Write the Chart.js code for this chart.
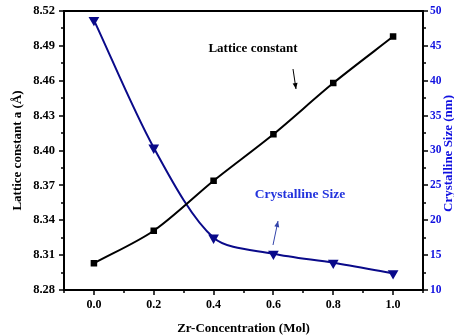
<!DOCTYPE html>
<html>
<head>
<meta charset="utf-8">
<script src="https://cdn.jsdelivr.net/npm/chart.js@4"></script>
<style>
  html, body { margin: 0; padding: 0; background: #fff; }
  #wrap { width: 454px; height: 336px; position: relative; }
</style>
</head>
<body>
<div id="wrap"><canvas id="chart"></canvas></div>
<script>
const zrConc = [0.0, 0.2, 0.4, 0.6, 0.8, 1.0];
const latticeConst = [8.303, 8.331, 8.374, 8.414, 8.458, 8.498];
const crystalSize = [48.7, 30.4, 17.5, 15.2, 13.9, 12.4];
const xTicks = [0.0, 0.2, 0.4, 0.6, 0.8, 1.0];
const yLeftTicks = [8.28, 8.31, 8.34, 8.37, 8.40, 8.43, 8.46, 8.49, 8.52];
const yRightTicks = [10, 15, 20, 25, 30, 35, 40, 45, 50];

const serif = '"Liberation Serif", "Times New Roman", serif';
const blue = '#1010e0';
const navy = '#0a0a8a';

// frame, major + minor ticks, arrows and text labels
const decorPlugin = {
    id: 'decor',
    afterDraw(chart) {
        const ctx = chart.ctx;
        const a = chart.chartArea;
        const sx = chart.scales.x, sy = chart.scales.y, sr = chart.scales.y1;
        ctx.save();
        ctx.strokeStyle = '#000';
        ctx.lineWidth = 2;
        ctx.strokeRect(a.left, a.top, a.right - a.left, a.bottom - a.top);
        ctx.lineWidth = 1.5;
        ctx.beginPath();
        // x ticks
        for (let i = 0; i <= 12; i++) {
            const v = -0.1 + i * 0.1;
            const px = Math.round(sx.getPixelForValue(v));
            const len = (i % 2 === 1) ? 5 : 3;
            ctx.moveTo(px, a.bottom); ctx.lineTo(px, a.bottom + len);
        }
        // left ticks
        for (let i = 0; i <= 16; i++) {
            const v = 8.28 + i * 0.015;
            const py = Math.round(sy.getPixelForValue(v));
            const len = (i % 2 === 0) ? 5 : 3;
            ctx.moveTo(a.left, py); ctx.lineTo(a.left - len, py);
        }
        // right ticks
        for (let i = 0; i <= 16; i++) {
            const v = 10 + i * 2.5;
            const py = Math.round(sr.getPixelForValue(v));
            const len = (i % 2 === 0) ? 5 : 3;
            ctx.moveTo(a.right, py); ctx.lineTo(a.right + len, py);
        }
        ctx.stroke();

        // right axis title, hugging the edge
        ctx.save();
        ctx.translate(449, (a.top + a.bottom) / 2 + 3);
        ctx.rotate(-Math.PI / 2);
        ctx.font = 'bold 13px ' + serif;
        ctx.fillStyle = blue;
        ctx.textAlign = 'center';
        ctx.textBaseline = 'middle';
        ctx.fillText('Crystalline Size (nm)', 0, 0);
        ctx.restore();

        // annotation labels
        ctx.font = 'bold 13px ' + serif;
        ctx.textAlign = 'center';
        ctx.textBaseline = 'middle';
        ctx.fillStyle = '#000';
        ctx.fillText('Lattice constant', 253, 49);
        ctx.font = 'bold 13.5px ' + serif;
        ctx.fillStyle = '#2233dd';
        ctx.fillText('Crystalline Size', 300, 195);

        function arrow(x1, y1, x2, y2, color) {
            ctx.strokeStyle = color;
            ctx.fillStyle = color;
            ctx.lineWidth = 1;
            ctx.beginPath();
            ctx.moveTo(x1, y1); ctx.lineTo(x2, y2);
            ctx.stroke();
            const ang = Math.atan2(y2 - y1, x2 - x1);
            const h = 6, w = 2.5;
            ctx.beginPath();
            ctx.moveTo(x2, y2);
            ctx.lineTo(x2 - h * Math.cos(ang) + w * Math.sin(ang), y2 - h * Math.sin(ang) - w * Math.cos(ang));
            ctx.lineTo(x2 - h * Math.cos(ang) - w * Math.sin(ang), y2 - h * Math.sin(ang) + w * Math.cos(ang));
            ctx.closePath();
            ctx.fill();
        }
        arrow(293, 69, 296, 89, '#000');
        arrow(273, 245, 278, 221, '#3344aa');
        ctx.restore();
    }
};

new Chart(document.getElementById('chart').getContext('2d'), {
    type: 'line',
    data: {
        datasets: [{
            label: 'Lattice constant',
            data: zrConc.map((x, i) => ({ x: x, y: latticeConst[i] })),
            yAxisID: 'y',
            borderColor: '#000',
            backgroundColor: '#000',
            borderWidth: 2,
            pointStyle: 'rect',
            pointRadius: 3.2,
            tension: 0.3
        }, {
            label: 'Crystalline Size',
            data: zrConc.map((x, i) => ({ x: x, y: crystalSize[i] })),
            yAxisID: 'y1',
            borderColor: navy,
            backgroundColor: navy,
            borderWidth: 2,
            pointStyle: 'triangle',
            rotation: 180,
            pointRadius: 4.2,
            tension: 0.3
        }]
    },
    options: {
        responsive: true, maintainAspectRatio: false,
        animation: false,
        layout: { padding: { top: 11, right: 0, left: 0, bottom: 0 } },
        plugins: { legend: { display: false }, tooltip: { enabled: false } },
        scales: {
            x: {
                type: 'linear', min: -0.1, max: 1.1,
                grid: { display: false },
                border: { display: false },
                afterBuildTicks: (s) => { s.ticks = xTicks.map(v => ({ value: v })); },
                afterFit: (s) => { s.height = 46; s.paddingLeft = 0; s.paddingRight = 0; },
                ticks: {
                    color: '#000', padding: 0,
                    font: { family: serif, weight: 'bold', size: 12 },
                    callback: (v) => Number(v).toFixed(1)
                },
                title: {
                    display: true, text: 'Zr-Concentration (Mol)', color: '#000',
                    font: { family: serif, weight: 'bold', size: 13 },
                    padding: { top: 2, bottom: 0 }
                }
            },
            y: {
                type: 'linear', position: 'left', min: 8.28, max: 8.52,
                grid: { display: false },
                border: { display: false },
                afterBuildTicks: (s) => { s.ticks = yLeftTicks.map(v => ({ value: v })); },
                afterFit: (s) => { s.width = 64; s.paddingTop = 0; s.paddingBottom = 0; },
                ticks: {
                    color: '#000', padding: 1,
                    font: { family: serif, weight: 'bold', size: 12.5 },
                    callback: (v) => Number(v).toFixed(2)
                },
                title: {
                    display: true, text: 'Lattice constant a (Å)', color: '#000',
                    font: { family: serif, weight: 'bold', size: 13 },
                    padding: { top: 10, bottom: 0 }
                }
            },
            y1: {
                type: 'linear', position: 'right', min: 10, max: 50,
                grid: { display: false, drawTicks: false, tickLength: 0 },
                border: { display: false },
                afterBuildTicks: (s) => { s.ticks = yRightTicks.map(v => ({ value: v })); },
                afterFit: (s) => { s.width = 31; s.paddingTop = 0; s.paddingBottom = 0; },
                ticks: {
                    color: blue, padding: 7,
                    font: { family: serif, weight: 'bold', size: 11.5 }
                },
                title: { display: false }
            }
        }
    },
    plugins: [decorPlugin]
});
</script>
</body>
</html>
